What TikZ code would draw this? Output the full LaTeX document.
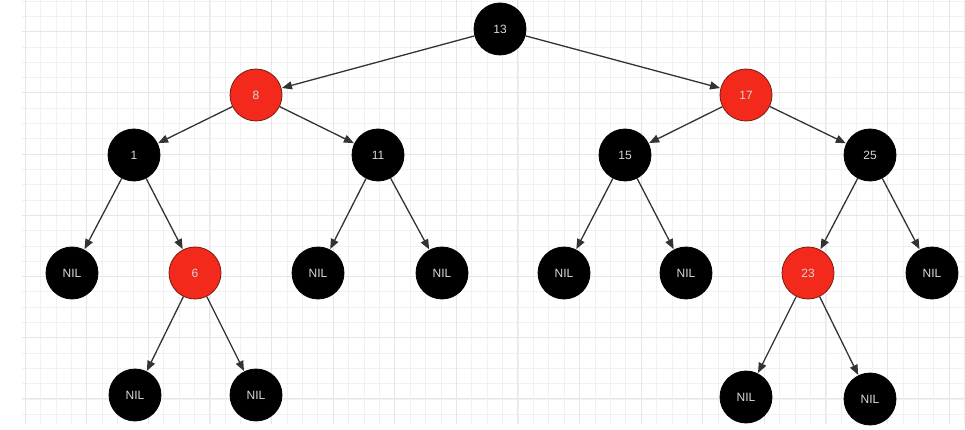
\documentclass[tikz,border=0pt]{standalone}
\usepackage{fontspec}
\setmainfont{Liberation Sans}
\usetikzlibrary{arrows.meta}
\definecolor{rbred}{HTML}{F32A1B}
\definecolor{rbredborder}{HTML}{7A1A12}
\definecolor{edgecol}{HTML}{333333}
\definecolor{gridminor}{HTML}{F1F1F1}
\definecolor{gridmajor}{HTML}{E6E6E6}
\tikzset{
  blk/.style={circle, fill=black, draw=black, line width=0.8pt, minimum size=52pt, inner sep=0pt, text=white!85!black, font=\fontsize{12}{13}\selectfont},
  rd/.style={blk, fill=rbred, draw=rbredborder},
  edge/.style={draw=edgecol, line width=1.3pt, -{Triangle[length=10pt,width=8pt]}, shorten >=0.5pt},
}
\begin{document}
\begin{tikzpicture}[x=1pt,y=-1pt]
\useasboundingbox (0,0) rectangle (965,430);
\fill[white] (0,0) rectangle (965,430);
% grid
\foreach \i in {0,...,61} {
  \pgfmathsetmacro{\xx}{25+15.4*\i}
  \draw[gridminor, line width=0.6pt] (\xx,0) -- (\xx,424);
}
\foreach \j in {0,...,27} {
  \pgfmathsetmacro{\yy}{1+15.3*\j}
  \draw[gridminor, line width=0.6pt] (22,\yy) -- (965,\yy);
}
\foreach \i in {0,...,15} {
  \pgfmathsetmacro{\xx}{25+61.6*\i}
  \draw[gridmajor, line width=0.8pt] (\xx,0) -- (\xx,424);
}
\foreach \j in {0,...,6} {
  \pgfmathsetmacro{\yy}{31.6+61.2*\j}
  \draw[gridmajor, line width=0.8pt] (22,\yy) -- (965,\yy);
}
% nodes
\node[blk] (n13) at (500,29) {13};
\node[rd]  (n8)  at (256,95) {8};
\node[rd]  (n17) at (746,95) {17};
\node[blk] (n1)  at (134,155) {1};
\node[blk] (n11) at (378,155) {11};
\node[blk] (n15) at (625,155) {15};
\node[blk] (n25) at (870,155) {25};
\node[blk] (l1)  at (72,273) {NIL};
\node[rd]  (n6)  at (195,273) {6};
\node[blk] (l2)  at (318,273) {NIL};
\node[blk] (l3)  at (442,273) {NIL};
\node[blk] (l4)  at (564,273) {NIL};
\node[blk] (l5)  at (686,273) {NIL};
\node[rd]  (n23) at (808,273) {23};
\node[blk] (l6)  at (932,273) {NIL};
\node[blk] (l7)  at (135,395) {NIL};
\node[blk] (l8)  at (256,395) {NIL};
\node[blk] (l9)  at (746,397) {NIL};
\node[blk] (l10) at (870,399) {NIL};
% edges
\draw[edge] (n13) -- (n8);
\draw[edge] (n13) -- (n17);
\draw[edge] (n8) -- (n1);
\draw[edge] (n8) -- (n11);
\draw[edge] (n17) -- (n15);
\draw[edge] (n17) -- (n25);
\draw[edge] (n1) -- (l1);
\draw[edge] (n1) -- (n6);
\draw[edge] (n11) -- (l2);
\draw[edge] (n11) -- (l3);
\draw[edge] (n15) -- (l4);
\draw[edge] (n15) -- (l5);
\draw[edge] (n25) -- (n23);
\draw[edge] (n25) -- (l6);
\draw[edge] (n6) -- (l7);
\draw[edge] (n6) -- (l8);
\draw[edge] (n23) -- (l9);
\draw[edge] (n23) -- (l10);
\end{tikzpicture}
\end{document}
